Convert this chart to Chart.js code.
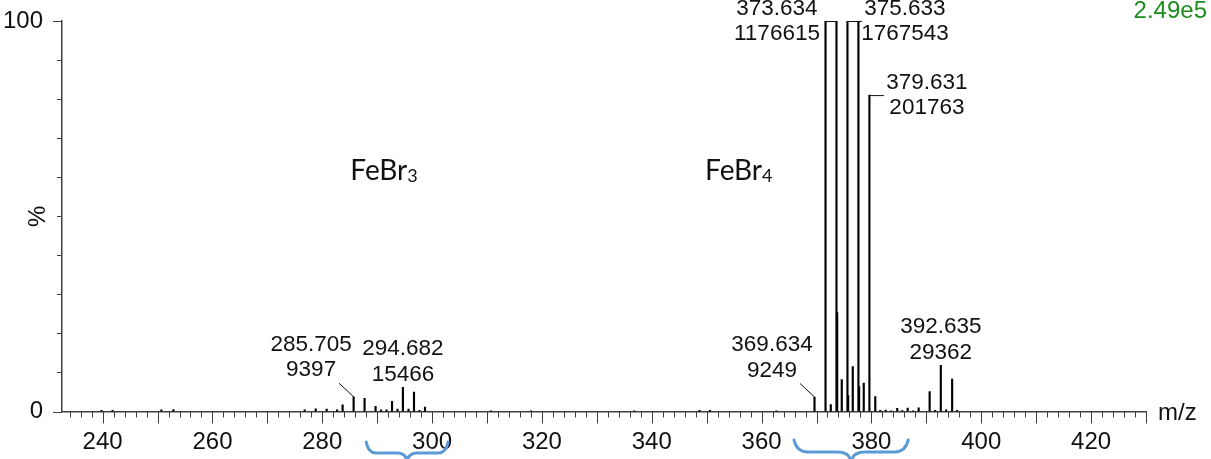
<!DOCTYPE html>
<html>
<head>
<meta charset="utf-8">
<script src="https://cdn.jsdelivr.net/npm/chart.js@4.4.1/dist/chart.umd.min.js"></script>
<style>
  html, body { margin: 0; padding: 0; background: #ffffff; }
  #wrap { width: 1211px; height: 459px; position: relative; }
</style>
</head>
<body>
<div id="wrap"><canvas id="spectrum" width="1211" height="459"></canvas></div>
<script>
// Full-scale intensity (counts) that maps to 100 %
const fullScale = 2.49e5;

// Centroided peaks: m/z and absolute intensity (counts)
const peakMz = [
  239.8, 241.8, 250.7, 252.9, 276.8, 278.8, 280.8, 282.7, 283.7, 285.705,
  287.7, 289.7, 290.7, 291.7, 292.7, 293.7, 294.682, 295.7, 296.7, 297.7,
  298.7, 310.7, 318.0, 336.8, 348.7, 350.6, 362.7, 369.634, 371.64, 372.6,
  373.634, 373.76, 374.6, 375.633, 375.76, 376.6, 377.63, 377.76, 378.6, 379.631,
  380.7, 381.6, 382.6, 383.6, 384.7, 385.6, 386.6, 387.6, 388.6, 390.6,
  391.6, 392.635, 393.6, 394.7, 395.6
];
const peakCounts = [
  750, 750, 1000, 1250, 1000, 1740, 1490, 1000, 4230, 9397,
  8470, 3240, 1000, 1000, 6470, 1490, 15466, 1490, 12330, 750,
  2740, 500, 500, 500, 750, 750, 500, 9249, 311000, 4480,
  1176615, 63000, 20420, 1767543, 10210, 28640, 1142000, 15940, 18180, 201763,
  9590, 750, 870, 500, 1990, 620, 2120, 500, 2370, 12700,
  750, 29362, 1000, 20670, 750
];

// Annotated peaks (m/z text and intensity text)
const labelMz     = ['285.705', '294.682', '369.634', '373.634', '375.633', '379.631', '392.635'];
const labelCounts = [9397, 15466, 9249, 1176615, 1767543, 201763, 29362];

// Axis tick values
const xLabelTicks = [240, 260, 280, 300, 320, 340, 360, 380, 400, 420];
const yLabelTicks = [0, 100];

// Ion assignments
const ionNames = ['FeBr', 'FeBr'];
const ionSubs  = ['3', '4'];
const ionMz    = [285.1, 349.7];

const toPct = c => c / fullScale * 100;
const points = peakMz.map((m, i) => ({ x: m, y: toPct(peakCounts[i]) }));

// Label placement: how each annotation sits relative to its peak top
const labelStyle = {
  '285.705': { mode: 'diag' },
  '294.682': { mode: 'above' },
  '369.634': { mode: 'diag' },
  '373.634': { mode: 'left' },
  '375.633': { mode: 'right' },
  '379.631': { mode: 'right' },
  '392.635': { mode: 'above' }
};

const AXIS = '#404040';
const LABEL_FONT = '22.5px "Liberation Sans", Arial, sans-serif';

const decorPlugin = {
  id: 'decor',
  afterDraw(chart) {
    const { ctx, chartArea: a, scales: { x, y } } = chart;
    ctx.save();

    // minor / major tick marks on both axes
    ctx.strokeStyle = AXIS;
    ctx.lineWidth = 1;
    ctx.beginPath();
    for (let v = 234; v <= 430; v += 2) {
      const px = Math.round(x.getPixelForValue(v)) + 0.5;
      const len = v % 10 === 0 ? 12 : 6;
      ctx.moveTo(px, a.bottom);
      ctx.lineTo(px, a.bottom + len);
    }
    for (let v = 0; v <= 100; v += 10) {
      const py = Math.round(y.getPixelForValue(v)) + 0.5;
      const len = (v === 0 || v === 100) ? 9 : 5;
      ctx.moveTo(a.left - len, py);
      ctx.lineTo(a.left, py);
    }
    ctx.stroke();

    // peak annotations with leader lines
    ctx.fillStyle = '#111';
    ctx.font = LABEL_FONT;
    ctx.textAlign = 'center';
    ctx.textBaseline = 'middle';
    ctx.strokeStyle = '#111';
    labelMz.forEach((t, i) => {
      const px = x.getPixelForValue(parseFloat(t));
      const py = y.getPixelForValue(Math.min(toPct(labelCounts[i]), 100));
      const mode = labelStyle[t].mode;
      let cx, y1, y2;
      ctx.beginPath();
      if (mode === 'above') {
        cx = px; y1 = py - 38.5; y2 = py - 12.5;
      } else if (mode === 'diag') {
        ctx.moveTo(px, py);
        ctx.lineTo(px - 14.5, py - 13.5);
        cx = px - 42.5; y1 = py - 52; y2 = py - 26.5;
      } else if (mode === 'left') {
        ctx.moveTo(px, py + 0.5);
        ctx.lineTo(px - 10.5, py + 0.5);
        cx = px - 59.5; y1 = py - 12; y2 = py + 13;
      } else {
        ctx.moveTo(px, py + 0.5);
        ctx.lineTo(px + 14.5, py + 0.5);
        cx = px + 57.5; y1 = py - 12; y2 = py + 13;
      }
      ctx.stroke();
      ctx.fillText(t, cx, y1);
      ctx.fillText(String(labelCounts[i]), cx, y2);
    });

    // ion formulas
    ionNames.forEach((n, i) => {
      const px = x.getPixelForValue(ionMz[i]);
      const base = y.getPixelForValue(59.2);
      ctx.textAlign = 'left';
      ctx.textBaseline = 'alphabetic';
      ctx.font = '28px Lato, "Open Sans", sans-serif';
      ctx.fillText(n, px, base);
      const w = ctx.measureText(n).width;
      ctx.font = '18px Lato, "Open Sans", sans-serif';
      ctx.fillText(ionSubs[i], px + w, base + 2);
    });

    // axis unit and full-scale value
    ctx.font = '24px "Liberation Sans", Arial, sans-serif';
    ctx.textAlign = 'left';
    ctx.textBaseline = 'middle';
    ctx.fillStyle = '#111';
    ctx.fillText('m/z', a.right + 12, a.bottom + 2);
    ctx.textAlign = 'right';
    ctx.fillStyle = '#1e8c1e';
    ctx.fillText('2.49e5', chart.width - 4, 11);

    // braces grouping the two isotope clusters
    ctx.strokeStyle = '#5b9bd5';
    ctx.lineWidth = 3;
    ctx.lineCap = 'round';
    const brace = (m0, m1, yTop, h) => {
      const x0 = x.getPixelForValue(m0), x1 = x.getPixelForValue(m1);
      const xm = (x0 + x1) / 2, r = (x1 - x0) * 0.12, ym = yTop + h / 2;
      ctx.beginPath();
      ctx.moveTo(x0, yTop);
      ctx.quadraticCurveTo(x0 + r * 0.2, ym, x0 + r, ym);
      ctx.lineTo(xm - r, ym);
      ctx.quadraticCurveTo(xm, ym, xm, yTop + h);
      ctx.quadraticCurveTo(xm, ym, xm + r, ym);
      ctx.lineTo(x1 - r, ym);
      ctx.quadraticCurveTo(x1 - r * 0.2, ym, x1, yTop);
      ctx.stroke();
    };
    brace(288.0, 302.9, 442, 22);
    brace(365.9, 386.7, 440, 24);

    ctx.restore();
  }
};

new Chart(document.getElementById('spectrum'), {
  type: 'bar',
  data: {
    datasets: [{
      data: points,
      backgroundColor: '#000',
      borderWidth: 0,
      barThickness: 1.5,
      clip: 0
    }]
  },
  options: {
    responsive: false,
    animation: false,
    devicePixelRatio: 1,
    layout: { padding: { top: 21, right: 65, bottom: 0, left: 0 } },
    plugins: { legend: { display: false }, tooltip: { enabled: false } },
    scales: {
      x: {
        type: 'linear',
        offset: false,
        min: 232.6,
        max: 430,
        grid: { display: false, offset: false },
        border: { display: true, color: AXIS, width: 1.5 },
        afterBuildTicks: s => { s.ticks = xLabelTicks.map(v => ({ value: v })); },
        afterFit: s => { s.height = 47.5; s.paddingLeft = 0; s.paddingRight = 0; },
        ticks: {
          autoSkip: false,
          maxRotation: 0,
          padding: 8,
          color: '#111',
          font: { family: '"Liberation Sans", Arial, sans-serif', size: 24 }
        }
      },
      y: {
        min: 0,
        max: 100,
        grid: { display: false },
        border: { display: true, color: AXIS, width: 1.5 },
        afterBuildTicks: s => { s.ticks = yLabelTicks.map(v => ({ value: v })); },
        afterFit: s => { s.width = 62; s.paddingTop = 0; s.paddingBottom = 0; },
        title: {
          display: true,
          text: '%',
          color: '#111',
          padding: { top: 24, bottom: 0 },
          font: { family: '"Liberation Sans", Arial, sans-serif', size: 24 }
        },
        ticks: {
          padding: 11,
          color: '#111',
          font: { family: '"Liberation Sans", Arial, sans-serif', size: 24 }
        }
      }
    }
  },
  plugins: [decorPlugin]
});
</script>
</body>
</html>
